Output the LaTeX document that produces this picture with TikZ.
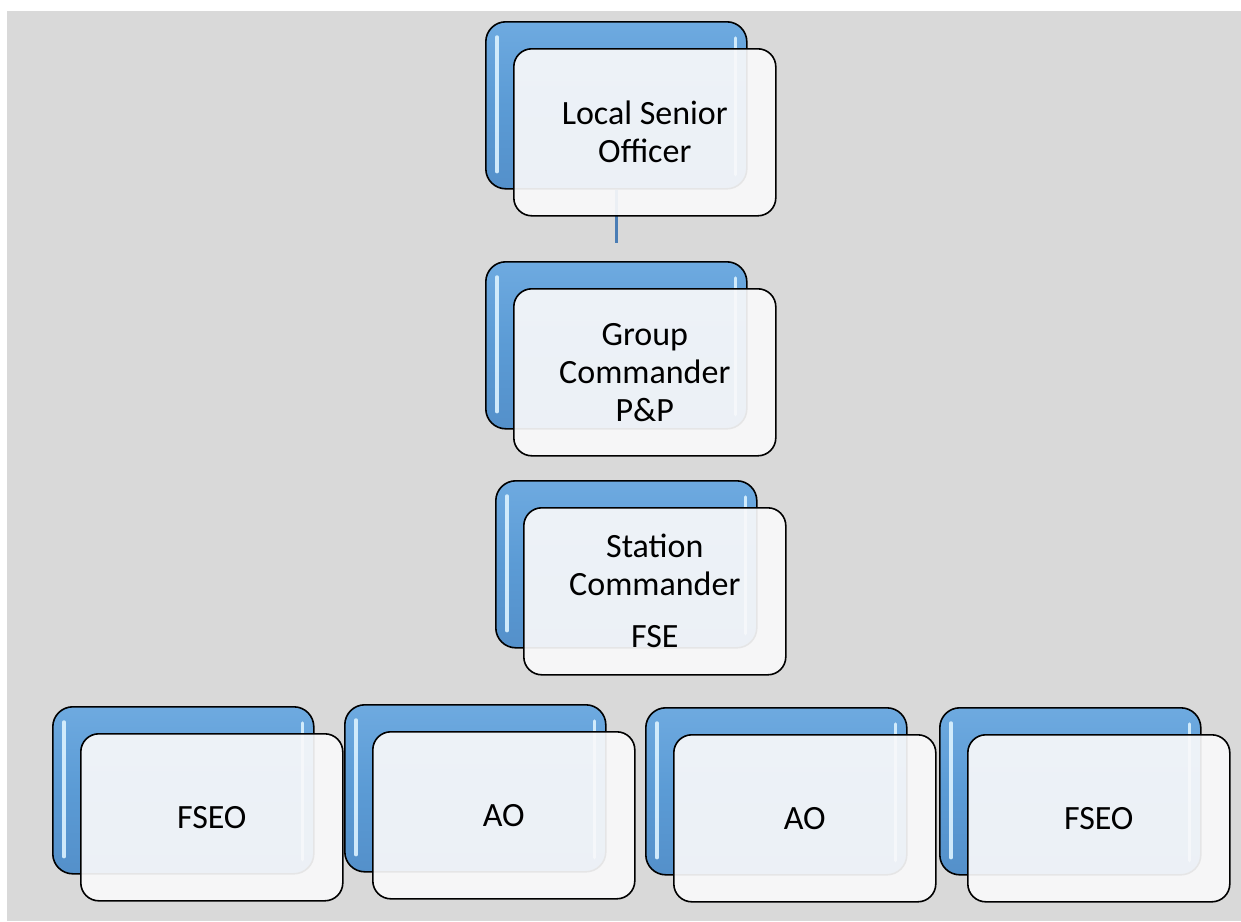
\documentclass[tikz,border=0pt]{standalone}
\usepackage{fontspec}
\setmainfont{Carlito}
\definecolor{bg}{HTML}{D9D9D9}
\definecolor{boxblue}{HTML}{5B9BD5}
\definecolor{boxblueT}{HTML}{6EAAE0}
\definecolor{boxblueB}{HTML}{5490CA}
\definecolor{hl}{HTML}{DDF3FF}
\definecolor{frontfill}{HTML}{F9F9FA}
\definecolor{conn}{HTML}{4A7DB5}
\tikzset{
  backbox/.style={draw=black, line width=1.6pt, rounded corners=20pt, minimum width=261pt, minimum height=167pt, inner sep=0pt, anchor=north west, top color=boxblueT, bottom color=boxblueB, middle color=boxblue},
  frontbox/.style={draw=black, line width=1.6pt, rounded corners=18pt, minimum width=262pt, minimum height=167pt, inner sep=0pt, anchor=north west, fill=frontfill, fill opacity=0.92, text opacity=1, align=center, font=\fontsize{34}{38}\selectfont},
  gloss/.style={draw=hl, line width=3.5pt, line cap=round, opacity=0.9},
  connector/.style={draw=conn, line width=3pt},
}
\newcommand{\backunit}[3]{%
  \node[backbox] (#1-back) at (#2,#3) {};
  \draw[gloss] ([xshift=12pt,yshift=-16pt]#1-back.north west) -- ([xshift=12pt,yshift=18pt]#1-back.south west);
  \draw[gloss] ([xshift=-12pt,yshift=-17pt]#1-back.north east) -- ([xshift=-12pt,yshift=15pt]#1-back.south east);
}
\newcommand{\frontunit}[4]{%
  \node[frontbox] (#1) at (#2+28,#3+27) {#4};
}
\begin{document}
\begin{tikzpicture}[x=1pt,y=-1pt]
\useasboundingbox (0,0) rectangle (1241,921);
\fill[bg] (7,11) rectangle (1241,921);

\backunit{lso}{485}{21}
\coordinate (stub) at (616,243);
\draw[connector] (lso-back.south) -- (lso-back.south |- stub);
\frontunit{lso}{485}{21}{Local Senior\\Officer}

\backunit{gc}{485}{261}
\frontunit{gc}{485}{261}{Group\\Commander\\P\&P}

\backunit{sc}{495}{480}
\frontunit{sc}{495}{480}{Station\\Commander\\[14pt]FSE}

\backunit{fseoa}{52}{706}
\frontunit{fseoa}{52}{706}{FSEO}

\backunit{aoa}{344}{704}
\frontunit{aoa}{344}{704}{AO}

\backunit{aob}{645}{707}
\frontunit{aob}{645}{707}{AO}

\backunit{fseob}{939}{707}
\frontunit{fseob}{939}{707}{FSEO}
\end{tikzpicture}
\end{document}
